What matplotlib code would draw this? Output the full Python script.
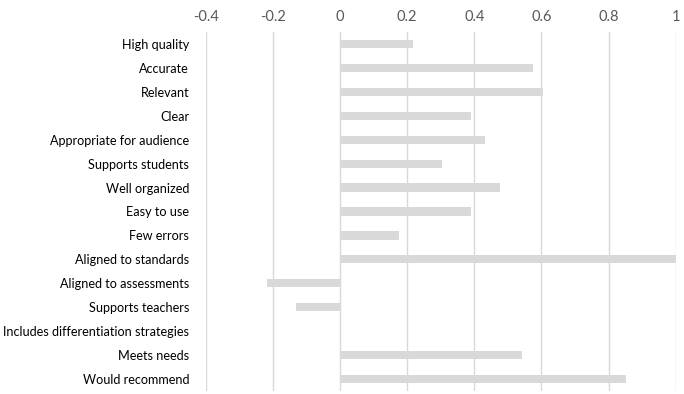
import matplotlib
matplotlib.use("Agg")
import matplotlib.pyplot as plt

categories = ["High quality", "Accurate", "Relevant", "Clear",
              "Appropriate for audience", "Supports students", "Well organized",
              "Easy to use", "Few errors", "Aligned to standards",
              "Aligned to assessments", "Supports teachers",
              "Includes differentiation strategies", "Meets needs",
              "Would recommend"]
values = [0.216, 0.576, 0.606, 0.390, 0.433, 0.304, 0.477,
          0.391, 0.175, 1.0, -0.216, -0.130, 0.0, 0.542, 0.852]
ticks = [-0.4, -0.2, 0, 0.2, 0.4, 0.6, 0.8, 1]
tick_labels = ["-0.4", "-0.2", "0", "0.2", "0.4", "0.6", "0.8", "1"]

plt.rcParams['font.family'] = ['Lato', 'DejaVu Sans']

fig = plt.figure(figsize=(6.84, 3.94), dpi=100)
ax = fig.add_axes([205.7 / 684, 1 - 391 / 394, 470 / 684, 359 / 394])

y = list(range(len(categories)))
ax.barh(y, values, height=0.34, color="#d9d9d9", zorder=2)
ax.set_ylim(len(categories) - 0.5, -0.5)
ax.set_xlim(-0.4, 1)

ax.set_xticks(ticks)
ax.set_xticklabels(tick_labels, fontsize=10.5, color="#595959")
ax.xaxis.tick_top()
ax.tick_params(axis="x", length=0, pad=6)
ax.set_yticks(y)
ax.set_yticklabels(categories, fontsize=9.1, color="black")
ax.tick_params(axis="y", length=0, pad=12)

ax.grid(axis="x", color="#d9d9d9", linewidth=1, zorder=0)
for s in ax.spines.values():
    s.set_visible(False)

fig.savefig("out.png", dpi=100)
